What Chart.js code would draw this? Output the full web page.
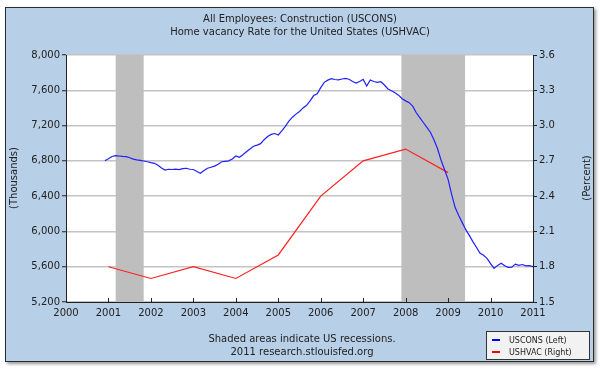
<!DOCTYPE html>
<html>
<head>
<meta charset="utf-8">
<script src="https://cdn.jsdelivr.net/npm/chart.js@4/dist/chart.umd.min.js"></script>
<style>
body { margin: 0; background: #fff; }
#panel { position: absolute; left: 5px; top: 7px; width: 587px; height: 353px; background: #b7cfe7; border: 1px solid #2b2b2b; box-shadow: 2px 2px 3px #999; }
#wrap { position: absolute; left: 0; top: 0; width: 600px; height: 375px; }
</style>
</head>
<body>
<div id="panel"></div>
<div id="wrap"><canvas id="construccion" width="600" height="375"></canvas></div>
<script>
// USCONS mensual, empieza en dic 2000
const inicioUscons = 2000 + 11 / 12;
const uscons = [
    6802, 6825, 6850, 6860, 6855, 6850, 6848, 6835, 6820, 6812, 6805, 6798,
    6790, 6780, 6772, 6750, 6718, 6695, 6705, 6702, 6706, 6700, 6712, 6716,
    6705, 6702, 6680, 6660, 6690, 6716, 6728, 6740, 6762, 6790, 6795, 6800,
    6822, 6855, 6840, 6870, 6904, 6935, 6965, 6978, 6995, 7040, 7075, 7100,
    7110, 7093, 7140, 7190, 7250, 7295, 7330, 7360, 7400, 7430, 7480, 7540,
    7560, 7630, 7690, 7715, 7732, 7722, 7718, 7728, 7735, 7725, 7700, 7682,
    7700, 7724, 7649, 7717, 7700, 7690, 7697, 7660, 7615, 7595, 7572, 7545,
    7505, 7480, 7460, 7420, 7345, 7290, 7235, 7180, 7125, 7040, 6940, 6810,
    6700, 6590, 6420, 6270, 6180, 6100, 6020, 5955, 5885, 5820, 5755, 5730,
    5695, 5635, 5582, 5615, 5640, 5610, 5592, 5595, 5630, 5615, 5625, 5610,
    5612, 5600
];
const anosHvac = [2001, 2002, 2003, 2004, 2005, 2006, 2007, 2008, 2009];
const ushvac = [1.8, 1.7, 1.8, 1.7, 1.9, 2.4, 2.7, 2.8, 2.6];
const recesiones = [[2001.17, 2001.83], [2007.9, 2009.4]];
const titulos = ['All Employees: Construction (USCONS)', 'Home vacancy Rate for the United States (USHVAC)'];
const pie = ['Shaded areas indicate US recessions.', '2011 research.stlouisfed.org'];

const puntosUscons = uscons.map((v, i) => ({ x: inicioUscons + i / 12, y: v }));
const puntosHvac = ushvac.map((v, i) => ({ x: anosHvac[i], y: v }));

const fuente = 'DejaVu Sans';

const decoracion = {
    id: 'decoracion',
    beforeDraw(chart) {
        const a = chart.chartArea;
        const ctx = chart.ctx;
        ctx.save();
        ctx.fillStyle = '#fff';
        ctx.fillRect(a.left, a.top, a.right - a.left, a.bottom - a.top);
        ctx.restore();
    },
    beforeDatasetsDraw(chart) {
        const a = chart.chartArea;
        const x = chart.scales.x;
        const ctx = chart.ctx;
        ctx.save();
        ctx.fillStyle = '#bebebe';
        recesiones.forEach(r => {
            const x1 = x.getPixelForValue(r[0]);
            const x2 = x.getPixelForValue(r[1]);
            ctx.fillRect(x1, a.top, x2 - x1, a.bottom - a.top);
        });
        ctx.restore();
    },
    afterDraw(chart) {
        const a = chart.chartArea;
        const x = chart.scales.x;
        const ctx = chart.ctx;
        ctx.save();
        // marcas del eje x hacia adentro
        ctx.strokeStyle = '#222';
        ctx.lineWidth = 1;
        for (let an = 2001; an <= 2010; an++) {
            const px = Math.round(x.getPixelForValue(an)) + 0.5;
            ctx.beginPath();
            ctx.moveTo(px, a.bottom);
            ctx.lineTo(px, a.bottom - 4);
            ctx.stroke();
        }
        ctx.fillStyle = '#222';
        ctx.font = '10px "' + fuente + '"';
        ctx.textAlign = 'center';
        ctx.textBaseline = 'middle';
        ctx.fillText(titulos[0], 300, 19);
        ctx.fillText(titulos[1], 300, 32);
        ctx.fillText(pie[0], 302, 339);
        ctx.fillText(pie[1], 302, 352);
        ctx.save();
        ctx.translate(14, 178);
        ctx.rotate(-Math.PI / 2);
        ctx.fillText('(Thousands)', 0, 0);
        ctx.restore();
        ctx.save();
        ctx.translate(587, 178);
        ctx.rotate(-Math.PI / 2);
        ctx.fillText('(Percent)', 0, 0);
        ctx.restore();
        // leyenda
        ctx.fillStyle = '#f2f2f2';
        ctx.fillRect(486.5, 331.5, 103, 28);
        ctx.strokeStyle = '#333';
        ctx.strokeRect(486.5, 331.5, 103, 28);
        ctx.lineWidth = 2;
        ctx.strokeStyle = '#0000ff';
        ctx.beginPath(); ctx.moveTo(492, 340); ctx.lineTo(500, 340); ctx.stroke();
        ctx.strokeStyle = '#ff0000';
        ctx.beginPath(); ctx.moveTo(492, 352); ctx.lineTo(500, 352); ctx.stroke();
        ctx.fillStyle = '#222';
        ctx.font = '8px "' + fuente + '"';
        ctx.textAlign = 'left';
        ctx.fillText('USCONS (Left)', 509, 341);
        ctx.fillText('USHVAC (Right)', 509, 353);
        ctx.restore();
    }
};

const configConstruccion = {
    type: 'line',
    data: {
        datasets: [{
            label: 'USCONS (Left)',
            data: puntosUscons,
            borderColor: '#2020ff',
            borderWidth: 1.2,
            pointRadius: 0,
            tension: 0,
            yAxisID: 'y'
        }, {
            label: 'USHVAC (Right)',
            data: puntosHvac,
            borderColor: '#ff2020',
            borderWidth: 1.2,
            pointRadius: 0,
            tension: 0,
            yAxisID: 'y1'
        }]
    },
    options: {
        responsive: false,
        animation: false,
        devicePixelRatio: 1,
        layout: { padding: { top: 55, left: 0, right: 0, bottom: 0 } },
        plugins: { legend: { display: false }, tooltip: { enabled: false } },
        scales: {
            x: {
                type: 'linear',
                min: 2000,
                max: 2011,
                afterFit: s => { s.height = 73; },
                ticks: { stepSize: 1, color: '#222', font: { family: fuente, size: 10 }, padding: -3, maxRotation: 0, callback: v => String(v) },
                grid: { display: false },
                border: { color: '#222', width: 1 }
            },
            y: {
                position: 'left',
                min: 5200,
                max: 8000,
                afterFit: s => { s.width = 66; },
                ticks: { stepSize: 400, color: '#222', font: { family: fuente, size: 10 }, padding: 2 },
                grid: { color: '#c4c4c4', lineWidth: 1.5, tickLength: 4, tickColor: '#222', tickWidth: 1 },
                border: { color: '#222', width: 1 }
            },
            y1: {
                position: 'right',
                min: 1.5,
                max: 3.6,
                afterFit: s => { s.width = 67; },
                ticks: { stepSize: 0.3, color: '#222', font: { family: fuente, size: 10 }, padding: 2, callback: v => v.toFixed(1) },
                grid: { drawOnChartArea: false, tickLength: 4, tickColor: '#222', tickWidth: 1 },
                border: { color: '#222', width: 1 }
            }
        }
    },
    plugins: [decoracion]
};

const graficaConstruccion = new Chart(document.getElementById('construccion'), configConstruccion);
</script>
</body>
</html>
